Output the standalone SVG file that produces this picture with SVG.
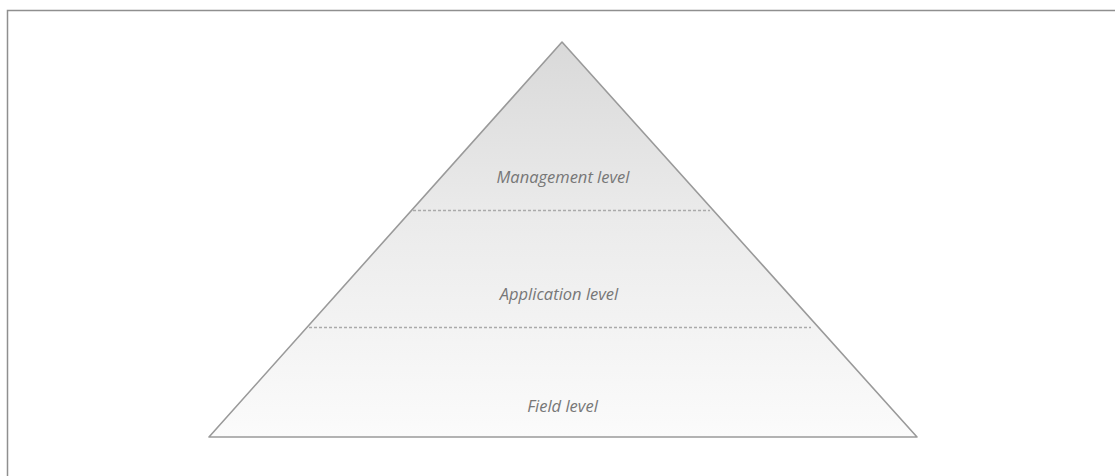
<svg xmlns="http://www.w3.org/2000/svg" width="1115" height="476" viewBox="0 0 1115 476">
  <defs>
    <linearGradient id="pyramidFill" x1="0" y1="42" x2="0" y2="437" gradientUnits="userSpaceOnUse">
      <stop offset="0" stop-color="#d9d9d9"/>
      <stop offset="0.45" stop-color="#ebebeb"/>
      <stop offset="1" stop-color="#fbfbfb"/>
    </linearGradient>
  </defs>
  <style>
    .frame { fill: none; stroke: #8f8f8f; stroke-width: 1.5; }
    .pyramid { fill: url(#pyramidFill); stroke: #9a9a9a; stroke-width: 1.6; stroke-linejoin: round; }
    .divider { stroke: #aaaaaa; stroke-width: 1.3; stroke-dasharray: 3 2; fill: none; }
    .label { font-family: "Open Sans", "Noto Sans", "Liberation Sans", sans-serif; font-style: italic; font-size: 16.5px; fill: #777777; text-anchor: middle; }
  </style>
  <rect width="1115" height="476" fill="#ffffff"/>
  <!-- page frame: top and left edges -->
  <path class="frame" d="M7.5 476 V10.5 H1115"/>

  <g id="pyramid">
    <polygon class="pyramid" points="562,42 209,437 917,437"/>
  </g>

  <g id="connectors">
    <line class="divider" x1="413" y1="210.5" x2="710" y2="210.5"/>
    <line class="divider" x1="309" y1="327.5" x2="811" y2="327.5"/>
  </g>

  <g id="management-level">
    <text class="label" x="563" y="183">Management level</text>
  </g>
  <g id="application-level">
    <text class="label" x="559" y="300">Application level</text>
  </g>
  <g id="field-level">
    <text class="label" x="562.5" y="412">Field level</text>
  </g>
</svg>
